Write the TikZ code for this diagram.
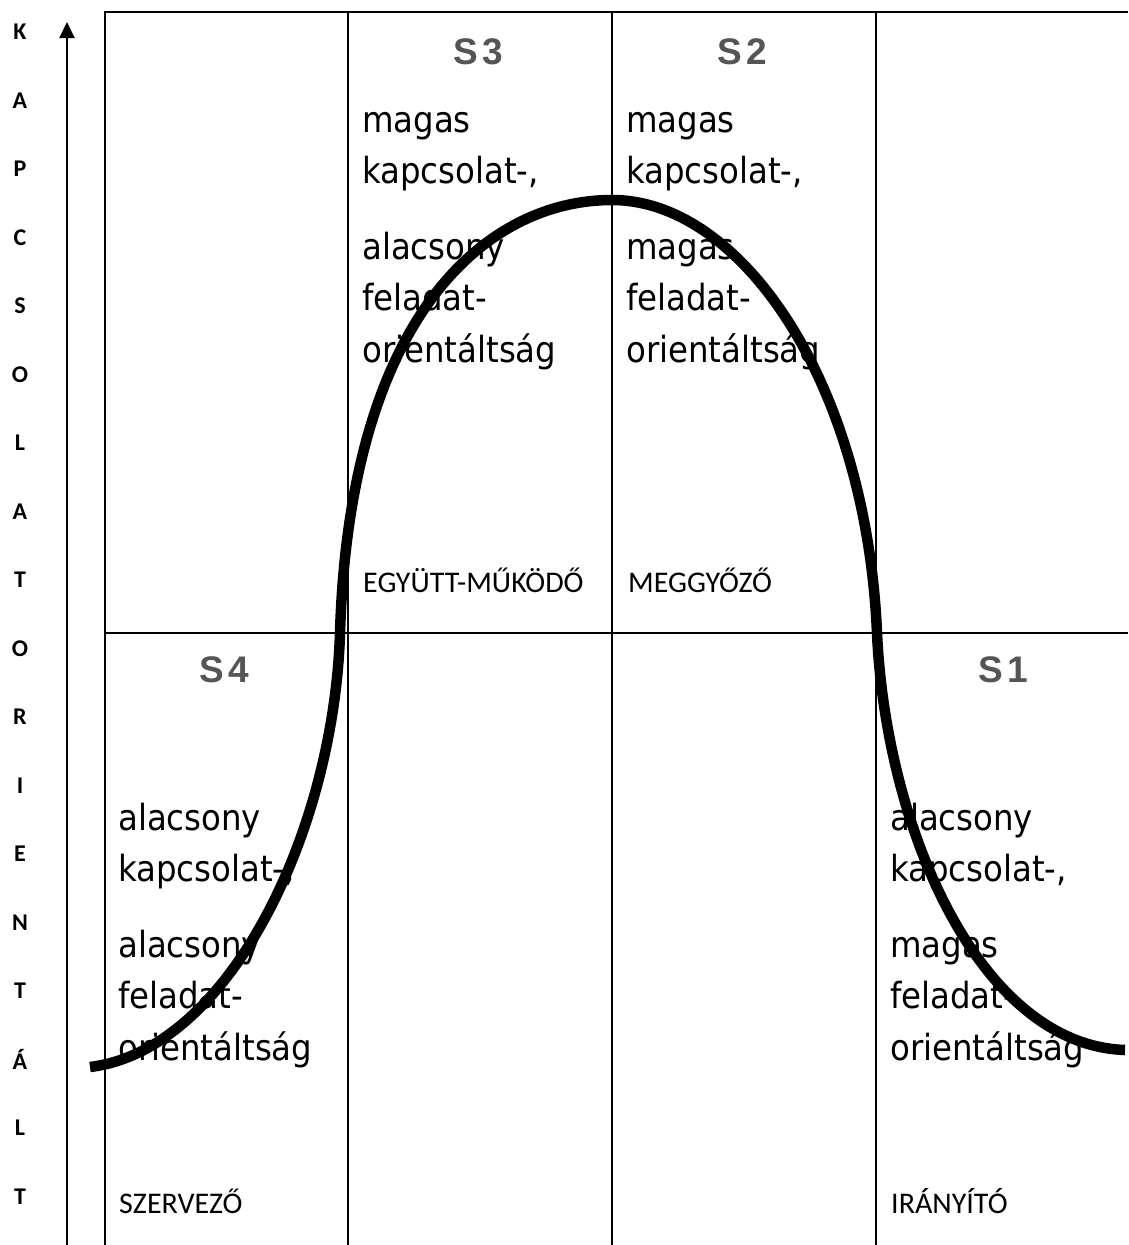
\documentclass[tikz,border=0pt]{standalone}
\usepackage{fontspec}
\setmainfont{DejaVu Sans Condensed}
\newfontfamily\capfont{Carlito}
\newfontfamily\headfont{Liberation Sans}
\usetikzlibrary{arrows.meta}
\definecolor{headgray}{RGB}{85,85,85}
\tikzset{
  gridline/.style={line width=2.2pt},
  head/.style={font=\headfont\bfseries\fontsize{37}{37}\selectfont,text=headgray,inner sep=0pt},
  body/.style={font=\fontsize{36}{36}\selectfont,anchor=base west,inner sep=0pt},
  tag/.style={font=\capfont\fontsize{30}{30}\selectfont,anchor=base west,inner sep=0pt},
  axletter/.style={font=\capfont\bfseries\fontsize{24}{24}\selectfont,inner sep=0pt},
  bell/.style={line width=10.5pt},
}

\begin{document}
\begin{tikzpicture}[x=1pt,y=-1pt]
  \useasboundingbox (0,0) rectangle (1128,1245);
  % axis
  \coordinate (axbot) at (67,1245);
  \coordinate (axtop) at (67,22);
  \draw[line width=2pt,-{Triangle[width=15pt,length=16pt]}] (axbot) -- (axtop);
  \foreach \c [count=\n from 0] in {K,A,P,C,S,O,L,A,T,O,R,I,E,N,T,Á,L,T}{
    \pgfmathsetmacro{\y}{32+\n*68.5}
    \node[axletter] (ax\n) at (20,\y) {\c};
  }
  % grid
  \draw[gridline] (1128,12) -| (105,1245);
  \foreach \gx in {348,612,876}
    \draw[gridline] (\gx,12) -- (\gx,1245);
  \draw[gridline] (105,633) -- (1128,633);
  % headings
  \node[head] (s3) at (478,52) {S\hspace{4pt}3};
  \node[head] (s2) at (742,52) {S\hspace{4pt}2};
  \node[head] (s4) at (224,670) {S\hspace{4pt}4};
  \node[head] (s1) at (1003,670) {S\hspace{4pt}1};
  % cell texts, one line each
  \foreach \lx/\ly/\txt [count=\k] in {
      362/132/magas, 362/183/{kapcsolat-,}, 362/259/alacsony, 362/310/feladat-, 362/362/orientáltság,
      626/132/magas, 626/183/{kapcsolat-,}, 626/259/magas, 626/310/feladat-, 626/362/orientáltság,
      118/830/alacsony, 118/881/{kapcsolat-,}, 118/957/alacsony, 118/1008/feladat-, 118/1060/orientáltság,
      890/830/alacsony, 890/881/{kapcsolat-,}, 890/957/magas, 890/1008/feladat-, 890/1060/orientáltság}
    \node[body] (ln\k) at (\lx,\ly) {\txt};
  \node[tag] (n3) at (363,592) {EGYÜTT-MŰKÖDŐ};
  \node[tag] (n2) at (628,592) {MEGGYŐZŐ};
  \node[tag] (n4) at (119,1213) {SZERVEZŐ};
  \node[tag] (n1) at (891,1213) {IRÁNYÍTÓ};
  % curve
  \draw[bell] (90,1067) .. controls (230,1050) and (334,830) .. (340,633)
    .. controls (350,310) and (490,200) .. (612,200)
    .. controls (740,200) and (866,380) .. (877,633)
    .. controls (886,830) and (980,1045) .. (1125,1050);
\end{tikzpicture}
\end{document}
